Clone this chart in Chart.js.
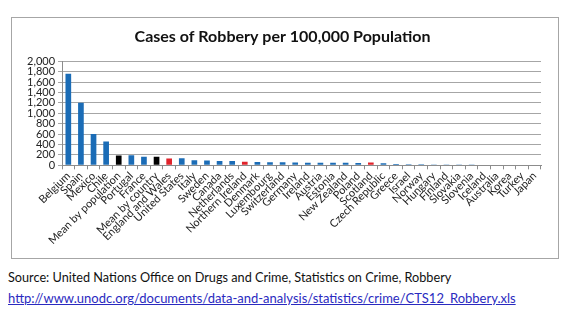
<!DOCTYPE html>
<html>
<head>
<meta charset="utf-8">
<script src="https://cdn.jsdelivr.net/npm/chart.js@4"></script>
<style>
  body { margin: 0; background: #fff; width: 580px; height: 321px; overflow: hidden; font-family: Lato, "Open Sans", sans-serif; }
  #box { position: absolute; left: 11px; top: 17px; width: 546px; height: 240px; border: 1px solid #a6a6a6; }
  #src { position: absolute; left: 8px; top: 269px; font-size: 12.7px; color: #111; }
  #link { position: absolute; left: 8px; top: 290px; font-size: 13px; color: #2a2ac0; text-decoration: underline; }
</style>
</head>
<body>
<div id="box"><canvas id="chart" width="546" height="240"></canvas></div>
<div id="src">Source: United Nations Office on Drugs and Crime, Statistics on Crime, Robbery</div>
<div id="link">http://www.unodc.org/documents/data-and-analysis/statistics/crime/CTS12_Robbery.xls</div>
<script>
// countries, sorted by rate
var countries = ["Belgium", "Spain", "Mexico", "Chile", "Mean by population", "Portugal", "France",
    "Mean by country", "England and Wales", "United States", "Italy", "Sweden", "Canada", "Netherlands",
    "Northern Ireland", "Denmark", "Luxembourg", "Switzerland", "Germany", "Ireland", "Austria", "Estonia",
    "New Zealand", "Poland", "Scotland", "Czech Republic", "Greece", "Israel", "Norway", "Hungary",
    "Finland", "Slovakia", "Slovenia", "Iceland", "Australia", "Korea", "Turkey", "Japan"];

// cases per 100,000
var robbery = [1760, 1200, 600, 460, 190, 195, 165, 165, 130, 135, 100, 95, 85, 85,
    70, 62, 60, 58, 55, 52, 50, 50, 48, 45, 55, 40, 25, 22, 20, 18,
    16, 15, 8, 0, 0, 0, 0, 0];

// bar kinds: b = country, m = mean, u = UK part
var kinds = ["b", "b", "b", "b", "m", "b", "b", "m", "u", "b", "b", "b", "b", "b",
    "u", "b", "b", "b", "b", "b", "b", "b", "b", "b", "u", "b", "b", "b", "b", "b",
    "b", "b", "b", "b", "b", "b", "b", "b"];

var yTicks = [0, 200, 400, 600, 800, 1000, 1200, 1400, 1600, 1800, 2000];

var kindColors = { b: "#1b6cb6", m: "#000000", u: "#e0232b" };
var barColors = kinds.map(function(k) { return kindColors[k]; });

var ctx = document.getElementById("chart").getContext("2d");
new Chart(ctx, {
    type: "bar",
    data: {
        labels: countries,
        datasets: [{
            data: robbery,
            backgroundColor: barColors,
            barPercentage: 0.45,
            categoryPercentage: 1
        }]
    },
    options: {
        responsive: false,
        animation: false,
        layout: { padding: { left: 12, right: 17, top: 0, bottom: 11 } },
        scales: {
            x: {
                offset: true,
                grid: { display: true, drawOnChartArea: false, offset: true, tickLength: 4, color: "#8c8c8c" },
                border: { color: "#8c8c8c" },
                ticks: { minRotation: 45, maxRotation: 45, autoSkip: false, padding: 0, color: "#222",
                    font: { family: "Lato", size: 11 } }
            },
            y: {
                min: 0,
                max: 2000,
                afterBuildTicks: function(axis) { axis.ticks = yTicks.map(function(v) { return { value: v }; }); },
                grid: { color: "#a6a6a6", tickLength: 4 },
                border: { color: "#8c8c8c" },
                ticks: { autoSkip: false, padding: 3, color: "#222", font: { family: "Lato", size: 11 },
                    callback: function(v) { return v.toLocaleString("en-US"); } }
            }
        },
        plugins: {
            legend: { display: false },
            tooltip: { enabled: false },
            title: {
                display: true,
                text: "Cases of Robbery per 100,000 Population",
                color: "#111",
                font: { family: "Lato", size: 16, weight: "bold" },
                padding: { top: 9, bottom: 15 }
            }
        }
    }
});
</script>
</body>
</html>
